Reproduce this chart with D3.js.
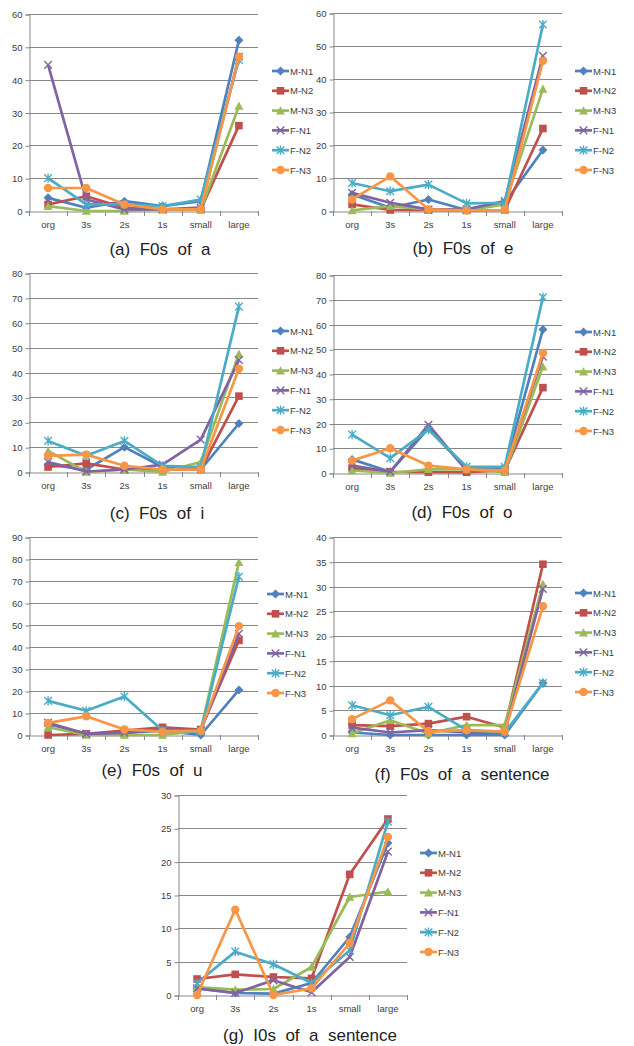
<!DOCTYPE html>
<html>
<head>
<meta charset="utf-8">
<script src="https://cdn.jsdelivr.net/npm/d3@7"></script>
<style>
  html, body { margin: 0; padding: 0; background: #fff; }
  svg { display: block; }
  text { font-family: "Liberation Sans", Arial, sans-serif; }
</style>
</head>
<body>
<script>
// categorias e séries
const categories = ["org", "3s", "2s", "1s", "small", "large"];
const seriesNames = ["M-N1", "M-N2", "M-N3", "F-N1", "F-N2", "F-N3"];

// valores (uma linha por série, na ordem de seriesNames)
const f0sOfA = [
  [4, 1, 3, 1.5, 3, 52],
  [2, 4.5, 1, 0.5, 0.5, 26],
  [1.5, 0, 0, 0.5, 0.3, 32],
  [44.5, 3.5, 0.5, 0.5, 1, 47],
  [10, 2, 2, 1.5, 3.5, 46],
  [7, 7, 2, 0.5, 0.5, 47]
];
const f0sOfE = [
  [5, 1, 3.5, 0.3, 2.5, 18.5],
  [2, 0.3, 0.3, 0.2, 0.3, 25],
  [0.2, 1.5, 0.5, 0.2, 2, 37],
  [5.5, 2.5, 0.5, 0.5, 3, 47],
  [8.5, 6, 8, 2.3, 2.5, 56.5],
  [3.5, 10.5, 0.5, 0.2, 0.3, 45.5]
];
const f0sOfI = [
  [3, 1, 10, 2, 1, 19.5],
  [2, 3.5, 1, 1, 1, 30.5],
  [8.5, 0, 1, 0, 4, 47.5],
  [4, 0.2, 1, 3, 13, 45],
  [12.5, 6.5, 12.5, 2.5, 2, 66.5],
  [6.5, 7, 2.5, 1, 1, 41.5]
];
const f0sOfO = [
  [5.5, 0.5, 18, 1.5, 2, 58],
  [2, 0.5, 0.3, 0.3, 1, 34.5],
  [1, 0, 1.5, 1.5, 0.3, 43],
  [3, 0.5, 19.5, 1, 1.5, 47],
  [15.5, 6, 17.5, 2.5, 2.5, 71],
  [5, 10, 3, 1.5, 1, 48.5]
];
const f0sOfU = [
  [5, 0.5, 1, 2, 0, 20.5],
  [0, 0.5, 2, 3.5, 2.5, 43],
  [3.5, 0, 0, 0, 2, 78.5],
  [5.5, 0.5, 1, 2.5, 2, 46],
  [15.5, 11, 17.5, 2, 1.5, 72],
  [5.5, 8.5, 2.5, 1.5, 2, 49.5]
];
const f0sOfSentence = [
  [0.5, 0, 0, 0, 0, 10.5],
  [2, 1.8, 2.3, 3.7, 1.5, 34.5],
  [0.3, 3, 0.3, 2, 2, 30.5],
  [1.5, 0.5, 1, 0.5, 0.5, 29.5],
  [6, 4, 5.7, 1, 0.5, 10.5],
  [3.2, 7, 0.7, 1, 0.7, 26]
];
const i0sOfSentence = [
  [1, 0.3, 0.2, 1.8, 8.7, 22.8],
  [2.4, 3.1, 2.7, 2.5, 18.1, 26.4],
  [1.2, 0.8, 0.9, 4.2, 14.7, 15.5],
  [1, 0.3, 2.2, 0.4, 5.7, 21.5],
  [1.8, 6.5, 4.6, 1.8, 6.7, 26],
  [0, 12.8, 0, 1, 7.8, 23.7]
];

// cores e marcadores (estilo Excel 2007)
const seriesColors = ["#4F81BD", "#C0504D", "#9BBB59", "#8064A2", "#4BACC6", "#F79646"];
const seriesMarkers = ["diamond", "square", "triangle", "x", "star", "circle"];

// layout de cada painel
const panels = [
  { title: "(a)  F0s  of  a", data: f0sOfA, yMax: 60, step: 10, left: 29, right: 258, top: 14, bottom: 211, legX: 272, legY: 71, tx: 160, ty: 255 },
  { title: "(b)  F0s  of  e", data: f0sOfE, yMax: 60, step: 10, left: 333, right: 562, top: 13, bottom: 211, legX: 575, legY: 71, tx: 463, ty: 254 },
  { title: "(c)  F0s  of  i", data: f0sOfI, yMax: 80, step: 10, left: 29, right: 258, top: 273, bottom: 472, legX: 272, legY: 331, tx: 157, ty: 519 },
  { title: "(d)  F0s  of  o", data: f0sOfO, yMax: 80, step: 10, left: 333, right: 562, top: 275, bottom: 473, legX: 575, legY: 332, tx: 462, ty: 518 },
  { title: "(e)  F0s  of  u", data: f0sOfU, yMax: 90, step: 10, left: 29, right: 258, top: 537, bottom: 735, legX: 267, legY: 594, tx: 152, ty: 776 },
  { title: "(f)  F0s  of  a  sentence", data: f0sOfSentence, yMax: 40, step: 5, left: 333, right: 562, top: 537, bottom: 735, legX: 575, legY: 593, tx: 462, ty: 780 },
  { title: "(g)  I0s  of  a  sentence", data: i0sOfSentence, yMax: 30, step: 5, left: 178, right: 407, top: 795, bottom: 995, legX: 420, legY: 853, tx: 310, ty: 1041 }
];

const svg = d3.select("body")
  .append("svg")
  .attr("width", 634)
  .attr("height", 1046);

// desenha um marcador na posição (0,0)
function drawMarker(sel, type, color) {
  const s = 3.8;
  if (type === "diamond") {
    sel.append("path").attr("d", `M0,${-s - 0.7}L${s + 0.7},0L0,${s + 0.7}L${-s - 0.7},0Z`).attr("fill", color);
  } else if (type === "square") {
    sel.append("rect").attr("x", -s).attr("y", -s).attr("width", 2 * s).attr("height", 2 * s).attr("fill", color);
  } else if (type === "triangle") {
    sel.append("path").attr("d", `M0,${-s - 0.6}L${s + 0.7},${s}L${-s - 0.7},${s}Z`).attr("fill", color);
  } else if (type === "x") {
    sel.append("path").attr("d", `M${-s},${-s}L${s},${s}M${-s},${s}L${s},${-s}`)
      .attr("stroke", color).attr("stroke-width", 1.4).attr("fill", "none");
  } else if (type === "star") {
    sel.append("path").attr("d", `M${-s},${-s}L${s},${s}M${-s},${s}L${s},${-s}M0,${-s - 0.8}L0,${s + 0.8}`)
      .attr("stroke", color).attr("stroke-width", 1.4).attr("fill", "none");
  } else {
    sel.append("circle").attr("r", s + 0.4).attr("fill", color);
  }
}

function drawPanel(p) {
  const g = svg.append("g");

  const x = d3.scaleBand().domain(categories).range([p.left, p.right]);
  const y = d3.scaleLinear().domain([0, p.yMax]).range([p.bottom, p.top]);
  const ticks = d3.range(0, p.yMax + p.step / 2, p.step);
  const cx = c => x(c) + x.bandwidth() / 2;

  // linhas de grade
  g.selectAll("line.grid")
    .data(ticks.slice(1))
    .join("line")
    .attr("x1", p.left).attr("x2", p.right)
    .attr("y1", d => Math.round(y(d)) + 0.5).attr("y2", d => Math.round(y(d)) + 0.5)
    .attr("stroke", "#888").attr("stroke-width", 1);

  // eixo Y
  const yAxis = g.append("g")
    .attr("transform", `translate(${p.left + 0.5},0.5)`)
    .call(d3.axisLeft(y).tickValues(ticks).tickSize(4).tickPadding(3).tickFormat(d3.format("d")));
  yAxis.select(".domain").attr("stroke", "#888");
  yAxis.selectAll(".tick line").attr("stroke", "#888");
  yAxis.selectAll(".tick text").attr("fill", "#404040").style("font-size", "9.5px");

  // eixo X
  const xAxis = g.append("g")
    .attr("transform", `translate(0,${Math.round(p.bottom) + 0.5})`)
    .call(d3.axisBottom(x).tickSize(0).tickPadding(10));
  xAxis.select(".domain").attr("stroke", "#888");
  xAxis.selectAll(".tick text").attr("fill", "#404040").style("font-size", "9.5px");

  // marcas entre categorias
  g.selectAll("line.xtick")
    .data(categories.map(c => x(c)).concat([p.right]))
    .join("line")
    .attr("x1", d => Math.round(d) + 0.5).attr("x2", d => Math.round(d) + 0.5)
    .attr("y1", Math.round(p.bottom)).attr("y2", Math.round(p.bottom) + 5)
    .attr("stroke", "#888");

  // séries
  const line = d3.line().x((d, i) => cx(categories[i])).y(d => y(d));
  p.data.forEach((vals, si) => {
    const color = seriesColors[si];
    g.append("path")
      .attr("d", line(vals))
      .attr("fill", "none")
      .attr("stroke", color)
      .attr("stroke-width", 2.7)
      .attr("stroke-linejoin", "round");
    vals.forEach((v, i) => {
      const m = g.append("g").attr("transform", `translate(${cx(categories[i])},${y(v)})`);
      drawMarker(m, seriesMarkers[si], color);
    });
  });

  // legenda
  const leg = g.append("g").attr("transform", `translate(${p.legX},${p.legY})`);
  seriesNames.forEach((name, si) => {
    const row = leg.append("g").attr("transform", `translate(0,${si * 19.8})`);
    row.append("line").attr("x1", 0).attr("x2", 17).attr("y1", 0).attr("y2", 0)
      .attr("stroke", seriesColors[si]).attr("stroke-width", 2.7);
    drawMarker(row.append("g").attr("transform", "translate(8.5,0)"), seriesMarkers[si], seriesColors[si]);
    row.append("text").attr("x", 18).attr("y", 3.5)
      .attr("fill", "#404040").style("font-size", "9.5px").text(name);
  });

  // título
  svg.append("text")
    .attr("x", p.tx).attr("y", p.ty)
    .attr("text-anchor", "middle")
    .attr("fill", "#222")
    .style("font-size", "17px")
    .style("white-space", "pre")
    .attr("xml:space", "preserve")
    .text(p.title);
}

panels.forEach(drawPanel);
</script>
</body>
</html>
